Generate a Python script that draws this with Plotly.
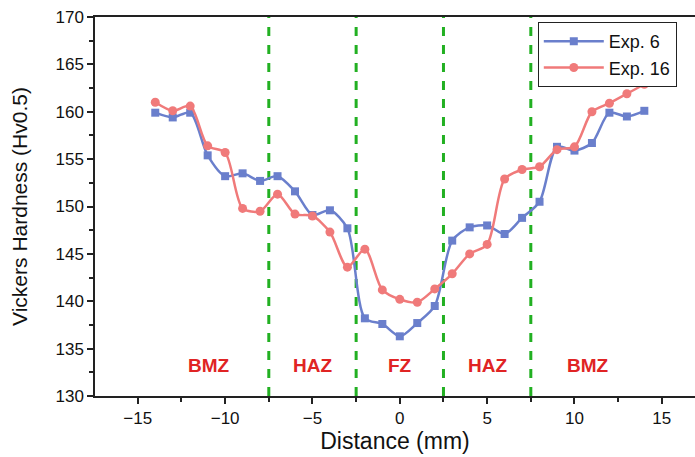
import plotly.graph_objects as go

distance = [-14, -13, -12, -11, -10, -9, -8, -7, -6, -5, -4, -3, -2, -1, 0, 1, 2, 3, 4, 5, 6, 7, 8, 9, 10, 11, 12, 13, 14]
exp6 = [159.9, 159.4, 159.9, 155.4, 153.2, 153.5, 152.7, 153.2, 151.6, 149.1, 149.6, 147.7, 138.2, 137.6, 136.3, 137.7, 139.5, 146.4, 147.8, 148.0, 147.1, 148.8, 150.5, 156.3, 155.9, 156.7, 159.9, 159.5, 160.1]
exp16 = [161.0, 160.1, 160.6, 156.4, 155.7, 149.8, 149.5, 151.3, 149.2, 149.0, 147.3, 143.6, 145.5, 141.2, 140.2, 139.9, 141.3, 142.9, 145.0, 146.0, 152.9, 153.9, 154.2, 156.0, 156.3, 160.0, 160.9, 161.9, 162.9]
boundaries = [-7.5, -2.5, 2.5, 7.5]
zone_names = ["BMZ", "HAZ", "FZ", "HAZ", "BMZ"]
zone_x = [-10.9, -5, 0, 5, 10.8]
zone_y = 133.2

fig = go.Figure()
for b in boundaries:
    fig.add_shape(type="line", x0=b, x1=b, y0=130, y1=170, xref="x", yref="y",
                  line=dict(color="#22b022", width=3, dash="dash"), layer="below")

fig.add_trace(go.Scatter(x=distance, y=exp6, name="Exp. 6", mode="lines+markers",
                         line=dict(color="#6a7fcc", width=2.5, shape="spline", smoothing=0.8),
                         marker=dict(symbol="square", size=8, color="#6a7fcc")))
fig.add_trace(go.Scatter(x=distance, y=exp16, name="Exp. 16", mode="lines+markers",
                         line=dict(color="#f07a7a", width=2.5, shape="spline", smoothing=0.8),
                         marker=dict(symbol="circle", size=9, color="#f07a7a")))

for name, zx in zip(zone_names, zone_x):
    fig.add_annotation(x=zx, y=zone_y, text="<b>" + name + "</b>", showarrow=False,
                       font=dict(family="Arial, Liberation Sans", size=19, color="#e02424"))

fig.update_layout(
    width=695, height=457,
    margin=dict(l=95, r=0, t=17, b=61),
    plot_bgcolor="white", paper_bgcolor="white",
    font=dict(family="Arial, Liberation Sans", color="#111"),
    legend=dict(x=0.738, y=0.987, xanchor="left", yanchor="top",
                bordercolor="#222", borderwidth=1, bgcolor="white",
                font=dict(size=18), tracegroupgap=0, itemwidth=60),
    showlegend=True,
)
fig.update_xaxes(range=[-17.45, 16.9], tickvals=[-15, -10, -5, 0, 5, 10, 15],
                 automargin=False,
                 ticks="outside", ticklen=6, tickwidth=1.5, tickcolor="#222",
                 minor=dict(tickvals=[-12.5, -7.5, -2.5, 2.5, 7.5, 12.5], ticks="outside", ticklen=4, tickcolor="#222"),
                 showline=True, linecolor="#222", linewidth=1.5, mirror=True,
                 showgrid=False, zeroline=False,
                 tickfont=dict(size=17),
                 title=dict(text="Distance (mm)", font=dict(size=23), standoff=6))
fig.update_yaxes(range=[130, 170], dtick=5,
                 automargin=False,
                 ticks="outside", ticklen=6, tickwidth=1.5, tickcolor="#222",
                 minor=dict(dtick=2.5, ticks="outside", ticklen=4, tickcolor="#222"),
                 showline=True, linecolor="#222", linewidth=1.5, mirror=True,
                 showgrid=False, zeroline=False,
                 tickfont=dict(size=17),
                 title=dict(text="Vickers Hardness (Hv0.5)", font=dict(size=21), standoff=22))

fig.write_html("out.html", config={"displayModeBar": False},
               post_script="document.body.style.margin='0';document.body.style.overflow='hidden';")
